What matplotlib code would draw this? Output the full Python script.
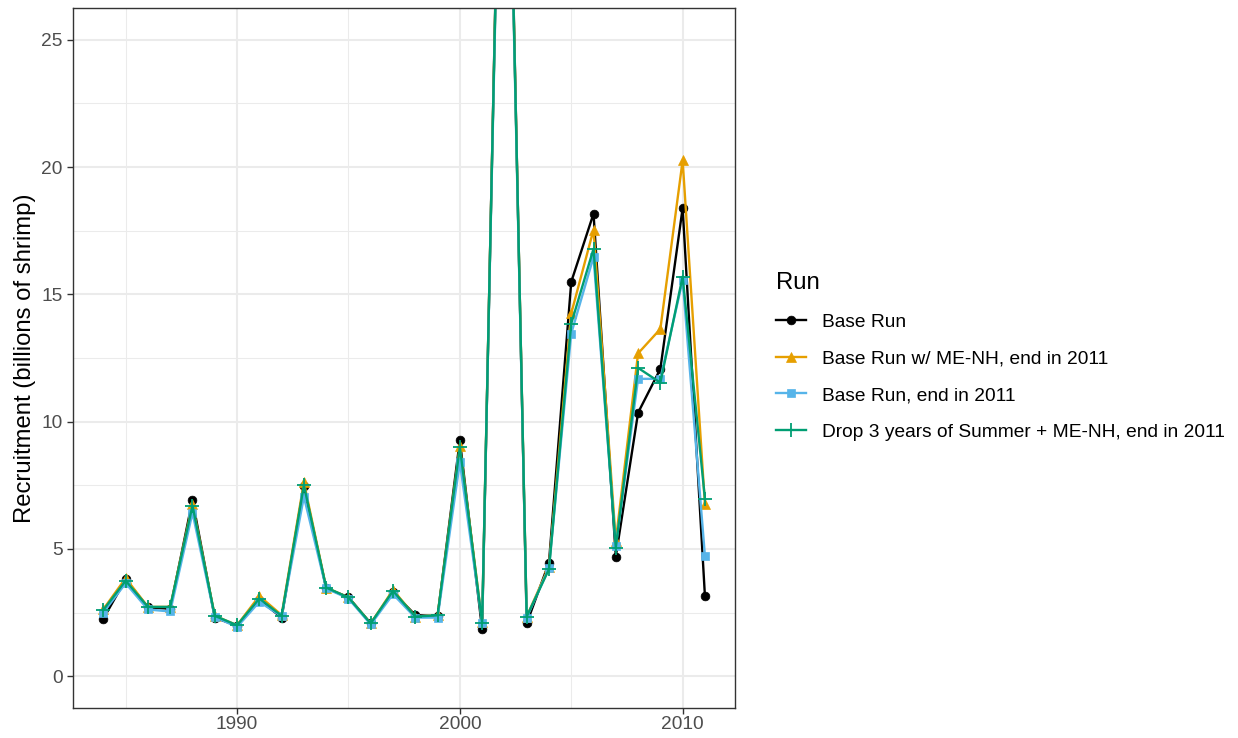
import matplotlib
matplotlib.use("Agg")
import matplotlib.pyplot as plt
from matplotlib.ticker import MultipleLocator

plt.rcParams["font.family"] = ["Liberation Sans", "DejaVu Sans"]

years = list(range(1984, 2012))

base_run = [2.26, 3.80, 2.70, 2.65, 6.92, 2.30, 1.98, 3.00, 2.30, 7.47,
            3.45, 3.10, 2.07, 3.30, 2.40, 2.35, 9.27, 1.84, 43.5, 2.07,
            4.46, 15.49, 18.17, 4.70, 10.35, 12.07, 18.39, 3.15]
base_menh = [2.63, 3.85, 2.72, 2.72, 6.75, 2.37, 2.00, 3.15, 2.40, 7.62,
             3.48, 3.09, 2.07, 3.39, 2.34, 2.39, 9.04, 2.13, 43.0, 2.34,
             4.30, 14.25, 17.54, 5.31, 12.68, 13.64, 20.26, 6.75]
base_2011 = [2.50, 3.65, 2.62, 2.54, 6.42, 2.33, 1.93, 2.92, 2.35, 7.05,
             3.45, 3.05, 2.03, 3.22, 2.30, 2.30, 8.41, 2.10, 42.5, 2.30,
             4.25, 13.46, 16.47, 5.10, 11.68, 11.68, 15.55, 4.72]
drop_summer = [2.60, 3.75, 2.72, 2.72, 6.70, 2.37, 2.00, 3.05, 2.37, 7.50,
               3.48, 3.09, 2.07, 3.35, 2.34, 2.39, 9.00, 2.10, 43.0, 2.34,
               4.20, 13.85, 16.79, 5.05, 12.11, 11.53, 15.70, 6.97]

runs = [
    ("Base Run", base_run, "black", "o", 6.3),
    ("Base Run w/ ME-NH, end in 2011", base_menh, "#E69F00", "^", 7.5),
    ("Base Run, end in 2011", base_2011, "#56B4E9", "s", 6.3),
    ("Drop 3 years of Summer + ME-NH, end in 2011", drop_summer, "#009E73", "+", 10),
]

fig = plt.figure(figsize=(12.38, 7.38), dpi=100)
ax = fig.add_axes([0.0592, 0.0407, 0.5345, 0.9485])

handles = []
for label, vals, color, marker, ms in runs:
    (h,) = ax.plot(years, vals, color=color, marker=marker, markersize=ms,
                   markeredgewidth=1.3 if marker == "+" else 0.5,
                   lw=1.7, label=label)
    handles.append(h)

ax.set_xlim(1982.65, 2012.35)
ax.set_ylim(-1.25, 26.25)
ax.xaxis.set_major_locator(MultipleLocator(10))
ax.xaxis.set_minor_locator(MultipleLocator(5))
ax.yaxis.set_major_locator(MultipleLocator(5))
ax.yaxis.set_minor_locator(MultipleLocator(2.5))
ax.grid(which="major", color="#EBEBEB", lw=1.5)
ax.grid(which="minor", color="#EBEBEB", lw=0.75)
ax.set_axisbelow(True)
ax.tick_params(which="major", length=4, width=1, color="#333333",
               labelsize=13.8, labelcolor="#4D4D4D")
ax.tick_params(axis="x", which="major", pad=1.5)
ax.tick_params(which="minor", length=0)
for s in ax.spines.values():
    s.set_color("#333333")
    s.set_linewidth(1)

ax.set_ylabel("Recruitment (billions of shrimp)", fontsize=17.2, labelpad=4)

leg = fig.legend(handles=handles, title="Run", loc="center left",
                 bbox_to_anchor=(0.613, 0.517), frameon=False,
                 fontsize=13.8, title_fontsize=17.2, handlelength=1.56,
                 handletextpad=0.83, labelspacing=1.0, alignment="left")

fig.savefig("out.png", dpi=100)
